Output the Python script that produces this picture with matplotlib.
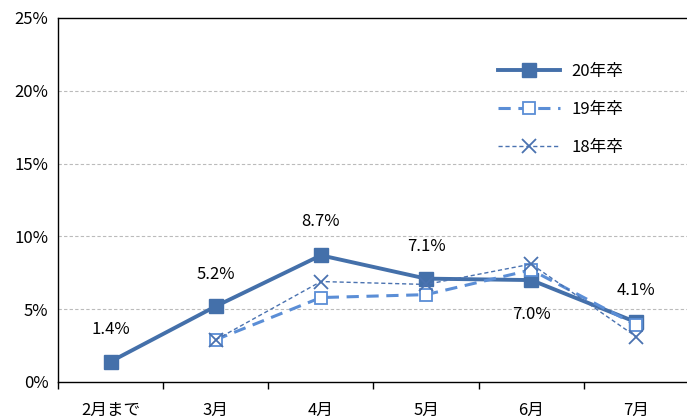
import matplotlib
matplotlib.use("Agg")
import matplotlib.pyplot as plt
from matplotlib.ticker import FixedLocator, FuncFormatter

plt.rcParams['font.family'] = ['Noto Sans CJK JP', 'DejaVu Sans']

months = ["2月まで", "3月", "4月", "5月", "6月", "7月"]
grad20 = [1.4, 5.2, 8.7, 7.1, 7.0, 4.1]
grad19 = [None, 2.9, 5.8, 6.0, 7.7, 3.9]
grad18 = [None, 2.9, 6.9, 6.7, 8.1, 3.1]
series_names = ["20年卒", "19年卒", "18年卒"]
yticks = [0, 5, 10, 15, 20, 25]

fig = plt.figure(figsize=(6.87, 4.2), dpi=100)
ax = fig.add_axes([58 / 687, 38 / 420, 631 / 687, 364 / 420])

x = list(range(len(months)))

def pts(vals):
    xs = [i for i, v in zip(x, vals) if v is not None]
    ys = [v for v in vals if v is not None]
    return xs, ys

c20 = "#4470aa"
c19 = "#5b8ed6"
c18 = "#4a72b0"

xs, ys = pts(grad20)
ax.plot(xs, ys, color=c20, lw=2.8, marker="s", ms=10, mfc=c20, mec=c20,
        label=series_names[0], zorder=3)
xs, ys = pts(grad19)
ax.plot(xs, ys, color=c19, lw=2.2, ls=(0, (4, 2.5)), marker="s", ms=9,
        mfc="white", mec=c19, mew=1.3, label=series_names[1], zorder=4)
xs, ys = pts(grad18)
ax.plot(xs, ys, color=c18, lw=1.0, ls=(0, (3, 2)), marker="x", ms=10,
        mec=c18, mew=1.3, label=series_names[2], zorder=5)

# value labels for the 20年卒 series
offsets = [23, 23, 24, 23, -25, 23]
for i, v in enumerate(grad20):
    ax.annotate(f"{v:.1f}%", (i, v), xytext=(0, offsets[i]),
                textcoords="offset points", ha="center", va="center",
                fontsize=12, color="black", zorder=6)

ax.set_xlim(-0.5, len(months) - 0.5)
ax.set_ylim(0, 25)
ax.yaxis.set_major_locator(FixedLocator(yticks))
ax.yaxis.set_major_formatter(FuncFormatter(lambda v, p: f"{int(v)}%"))
ax.set_xticks(x)
ax.set_xticklabels(months)
ax.xaxis.set_minor_locator(FixedLocator([i - 0.5 for i in range(len(months) + 1)]))
ax.tick_params(axis="x", which="major", length=0, pad=14, labelsize=12)
ax.tick_params(axis="x", which="minor", length=5, direction="out", width=1)
ax.tick_params(axis="y", length=0, pad=7, labelsize=12)

for v in yticks[1:-1]:
    ax.axhline(v, color="#bbbbbb", lw=0.8, ls=(0, (3, 2)), zorder=1)

for s in ax.spines.values():
    s.set_color("black")
    s.set_linewidth(1.0)

leg = ax.legend(loc="upper left", bbox_to_anchor=(0.674, 0.917), frameon=False,
                fontsize=12, handlelength=3.7, handletextpad=0.7,
                labelspacing=1.25)

fig.savefig("out.png", dpi=100)
